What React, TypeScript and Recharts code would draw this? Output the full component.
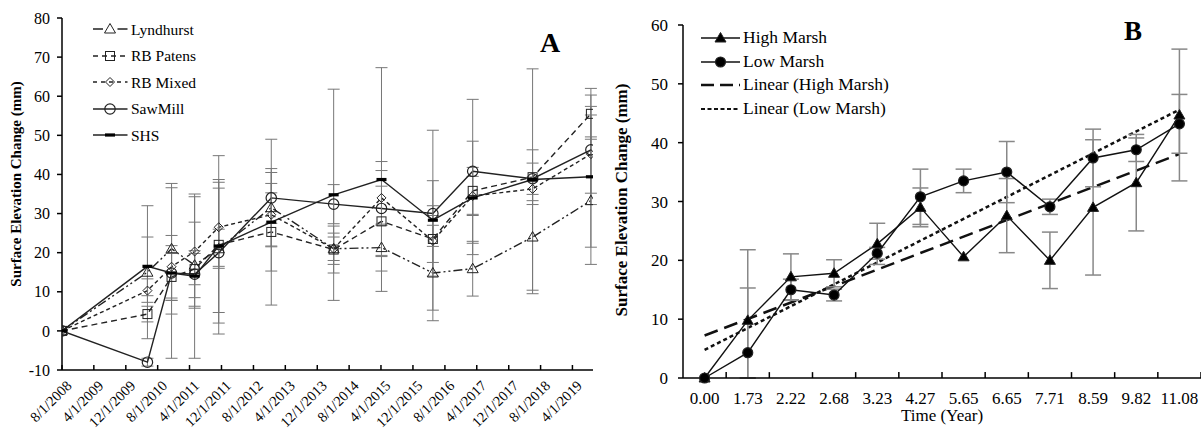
import React from "react";
import { LineChart, Line, XAxis, YAxis, ErrorBar, Legend, ReferenceLine } from "recharts";

const FONT = '"Liberation Serif", "Times New Roman", serif';

// ---- Panel A: elevation change by site ----
const datesA = [
  "2008-08-01", "2010-05-15", "2010-11-15", "2011-05-10", "2011-11-10", "2012-12-15",
  "2014-04-05", "2015-04-05", "2016-05-01", "2017-03-01", "2018-06-01", "2019-08-20",
];
const lyndhurst = [0, 15, 21, 16.8, 21, 31.5, 21, 21.3, 14.8, 15.9, 24, 33.3];
const lyndhurstErr = [0, 17, 16.7, 11, 5, 10, 3, 6, 12.2, 7, 14.5, 16.3];
const rbPatens = [0, 4.3, 13.8, 15.8, 22, 25.3, 20.8, 28, 23.5, 35.8, 39.3, 55.5];
const rbPatensErr = [0, 2, 6, 4, 22.8, 10, 6, 9, 6, 6, 7, 6.5];
const rbMixed = [0, 10.3, 16.4, 20.3, 26.5, 29.7, 21, 34, 23, 34.5, 36.3, 45.2];
const rbMixedErr = [0, 3, 8, 14, 10, 8, 4, 7, 9, 5, 3, 10];
const sawMill = [0, -8, 14.8, 14.5, 20, 34, 32.4, 31.3, 30, 40.8, 38.9, 46.3];
const sawMillErr = [0, 1, 21.8, 6, 18, 6.5, 5, 12, 8.4, 18.4, 4, 14];
const shs = [0, 16.5, 14.8, 14, 21.7, 27.8, 34.8, 38.7, 28.3, 34, 38.7, 39.4];
const shsErr = [0, 7.5, 7, 21, 17, 21.2, 27, 28.6, 23, 14.5, 28.3, 18];
const yTicksA = [-10, 0, 10, 20, 30, 40, 50, 60, 70, 80];

// ---- Panel B: high vs low marsh ----
const yearLabels = ["0.00", "1.73", "2.22", "2.68", "3.23", "4.27", "5.65", "6.65", "7.71", "8.59", "9.82", "11.08"];
const highMarsh = [0, 9.8, 17.2, 17.8, 22.8, 29, 20.6, 27.6, 20, 29, 33.2, 44.7];
const highMarshErr = [0, 12, 3.9, 2.3, 3.5, 3.3, 0, 6.3, 4.8, 11.5, 8.2, 11.2];
const lowMarsh = [0, 4.3, 15, 14.1, 21.2, 30.8, 33.5, 35, 29.1, 37.4, 38.8, 43.2];
const lowMarshErr = [0, 11, 1.8, 1, 1, 4.7, 2, 5.2, 1.3, 4.9, 2, 5];
const yTicksB = [0, 10, 20, 30, 40, 50, 60];

const seriesA = [
  { key: "lyndhurst", name: "Lyndhurst", values: lyndhurst, err: lyndhurstErr, dash: "9 3 2 3 2 3", legendDash: "10 14.5", shape: "triangle" },
  { key: "rbPatens", name: "RB Patens", values: rbPatens, err: rbPatensErr, dash: "6 4", legendDash: "5 4", shape: "square" },
  { key: "rbMixed", name: "RB Mixed", values: rbMixed, err: rbMixedErr, dash: "4 3", legendDash: "4 4", shape: "diamond" },
  { key: "sawMill", name: "SawMill", values: sawMill, err: sawMillErr, dash: undefined, legendDash: undefined, shape: "circle" },
  { key: "shs", name: "SHS", values: shs, err: shsErr, dash: undefined, legendDash: undefined, shape: "bar" },
];

const t0 = Date.UTC(2008, 7, 1);
const tEnd = Date.UTC(2019, 8, 5);
const dateTicksA = Array.from({ length: 17 }, (_, k) => Date.UTC(2008, 7 + 8 * k, 1));

const errPair = (v: number, e: number, floor: number) =>
  e ? [Math.min(e, v - floor), e] : null;

const rowsA = datesA.map((d, i) => {
  const row: any = { t: Date.parse(d) };
  seriesA.forEach((s) => {
    row[s.key] = s.values[i];
    row[s.key + "Err"] = errPair(s.values[i], s.err[i], -10);
  });
  return row;
});

// least-squares trendlines over the category index, as in the spreadsheet
function fit(ys: number[]) {
  const n = ys.length;
  const mx = (n - 1) / 2;
  const my = ys.reduce((a, b) => a + b, 0) / n;
  let sxy = 0, sxx = 0;
  ys.forEach((y, x) => { sxy += (x - mx) * (y - my); sxx += (x - mx) ** 2; });
  const slope = sxy / sxx;
  return (x: number) => my + slope * (x - mx);
}
const trendHigh = fit(highMarsh);
const trendLow = fit(lowMarsh);

const rowsB = yearLabels.map((_, i) => ({
  x: i,
  high: highMarsh[i],
  highErr: errPair(highMarsh[i], highMarshErr[i], 0),
  low: lowMarsh[i],
  lowErr: errPair(lowMarsh[i], lowMarshErr[i], 0),
  trendHigh: trendHigh(i),
  trendLow: trendLow(i),
}));

// category boundaries get the tick marks on a category axis
const boundariesB = yearLabels.map((_, i) => i + 0.5);

function Marker({ shape, cx, cy, filled }: { shape: string; cx: number; cy: number; filled?: boolean }) {
  const stroke = "#222";
  const fill = filled ? "#000" : "none";
  switch (shape) {
    case "triangle":
      return <polygon points={`${cx},${cy - 5.5} ${cx + 5.5},${cy + 4} ${cx - 5.5},${cy + 4}`} fill={fill} stroke={stroke} strokeWidth={1} />;
    case "square":
      return <rect x={cx - 4.5} y={cy - 4.5} width={9} height={9} fill={fill} stroke={stroke} strokeWidth={1} />;
    case "diamond":
      return <polygon points={`${cx},${cy - 4.5} ${cx + 4.5},${cy} ${cx},${cy + 4.5} ${cx - 4.5},${cy}`} fill={fill} stroke={stroke} strokeWidth={1} />;
    case "circle":
      return <circle cx={cx} cy={cy} r={filled ? 5 : 5.2} fill={fill} stroke={stroke} strokeWidth={1.2} />;
    case "bar":
      return <rect x={cx - 5} y={cy - 1.6} width={10} height={3.2} fill="#000" />;
    default:
      return null;
  }
}

const dotFor = (shape: string, name: string, filled?: boolean) => (p: any) =>
  p.cx == null || p.cy == null ? <g key={`${name}-${p.index}`} /> : (
    <g key={`${name}-${p.index}`}>
      <Marker shape={shape} cx={p.cx} cy={p.cy} filled={filled} />
    </g>
  );

function fmtDate(t: number) {
  const d = new Date(t);
  return `${d.getUTCMonth() + 1}/1/${d.getUTCFullYear()}`;
}

function DateTick({ x, payload }: any) {
  const ax = x + 7;
  const ay = 383;
  return (
    <text x={ax} y={ay} transform={`rotate(-45 ${ax} ${ay})`} textAnchor="end" dominantBaseline="central"
      fontFamily={FONT} fontSize={14.5} fill="#000">
      {fmtDate(payload.value)}
    </text>
  );
}

function LegendA() {
  return (
    <div style={{ fontFamily: FONT, fontSize: 15.5, color: "#000" }}>
      {seriesA.map((s) => (
        <div key={s.key} style={{ display: "flex", alignItems: "center", height: 26.5 }}>
          <svg width={35} height={14} style={{ overflow: "visible" }}>
            <line x1={0} y1={7} x2={34.5} y2={7} stroke="#222" strokeWidth={1.4} strokeDasharray={s.legendDash} />
            <Marker shape={s.shape} cx={17} cy={7} />
          </svg>
          <span style={{ marginLeft: 3, lineHeight: 1 }}>{s.name}</span>
        </div>
      ))}
    </div>
  );
}

const legendB = [
  { name: "High Marsh", dash: undefined, width: 1.4, shape: "triangle" },
  { name: "Low Marsh", dash: undefined, width: 1.4, shape: "circle" },
  { name: "Linear (High Marsh)", dash: "13 6", width: 2.5, shape: "" },
  { name: "Linear (Low Marsh)", dash: "4 2.5", width: 2, shape: "" },
];

function LegendB() {
  return (
    <div style={{ fontFamily: FONT, fontSize: 17.5, color: "#000" }}>
      {legendB.map((s) => (
        <div key={s.name} style={{ display: "flex", alignItems: "center", height: 23.7 }}>
          <svg width={40} height={14} style={{ overflow: "visible" }}>
            <line x1={0} y1={7} x2={39} y2={7} stroke="#111" strokeWidth={s.width} strokeDasharray={s.dash} />
            {s.shape && <Marker shape={s.shape} cx={19.5} cy={7} filled />}
          </svg>
          <span style={{ marginLeft: 2, lineHeight: 1 }}>{s.name}</span>
        </div>
      ))}
    </div>
  );
}

const titleStyle = (cx: number, cy: number, size: number): React.CSSProperties => ({
  position: "absolute",
  left: cx - 170,
  top: cy - 12,
  width: 340,
  height: 24,
  lineHeight: "24px",
  textAlign: "center",
  transform: "rotate(-90deg)",
  fontFamily: FONT,
  fontWeight: "bold",
  fontSize: size,
  color: "#000",
  whiteSpace: "nowrap",
});

export default function App() {
  return (
    <div style={{ position: "absolute", left: 0, top: 0, width: 1201, height: 431, background: "#fff", overflow: "hidden" }}>
      <div style={{ position: "absolute", left: 0, top: 0 }}>
        <LineChart width={600} height={431} data={rowsA} margin={{ top: 18, right: 7, bottom: 0, left: 0 }}>
          <XAxis
            dataKey="t"
            type="number"
            domain={[t0, tEnd]}
            ticks={dateTicksA}
            allowDataOverflow
            height={61}
            stroke="#000"
            strokeWidth={1.5}
            tickSize={-5}
            tickMargin={0}
            tick={<DateTick />}
            interval={0}
          />
          <YAxis
            type="number"
            domain={[-10, 80]}
            ticks={yTicksA}
            width={62}
            stroke="#000"
            strokeWidth={1.5}
            tickSize={5}
            tickMargin={7}
            interval={0}
            tick={{ fontFamily: FONT, fontSize: 16, fill: "#000" }}
          />
          <Legend
            layout="vertical"
            align="center"
            verticalAlign="middle"
            wrapperStyle={{ left: 93, top: 16, width: 130 }}
            content={() => <LegendA />}
          />
          {seriesA.map((s) => (
            <Line
              key={s.key}
              type="linear"
              dataKey={s.key}
              name={s.name}
              stroke="#222"
              strokeWidth={1.4}
              strokeDasharray={s.dash}
              dot={dotFor(s.shape, s.key)}
              activeDot={false}
              isAnimationActive={false}
            >
              <ErrorBar dataKey={s.key + "Err"} direction="y" width={6} stroke="#777" strokeWidth={1} />
            </Line>
          ))}
        </LineChart>
      </div>

      <div style={{ position: "absolute", left: 600, top: 0 }}>
        <LineChart width={601} height={431} data={rowsB} margin={{ top: 25, right: 0, bottom: 0, left: 0 }}>
          <XAxis
            xAxisId="lbl"
            dataKey="x"
            type="number"
            domain={[-0.5, 11.5]}
            ticks={yearLabels.map((_, i) => i)}
            tickFormatter={(v: number) => yearLabels[v]}
            allowDataOverflow
            height={53}
            stroke="#000"
            strokeWidth={1.5}
            tickLine={false}
            tickSize={0}
            tickMargin={14}
            interval={0}
            tick={{ fontFamily: FONT, fontSize: 17, fill: "#000" }}
          />
          <YAxis
            type="number"
            domain={[0, 60]}
            ticks={yTicksB}
            width={83}
            stroke="#000"
            strokeWidth={1.5}
            tickSize={5}
            tickMargin={10}
            interval={0}
            tick={{ fontFamily: FONT, fontSize: 17, fill: "#000" }}
          />
          <Legend
            layout="vertical"
            align="center"
            verticalAlign="middle"
            wrapperStyle={{ left: 101, top: 26, width: 200 }}
            content={() => <LegendB />}
          />
          {boundariesB.map((b) => (
            <ReferenceLine
              key={b}
              xAxisId="lbl"
              segment={[{ x: b, y: 0 }, { x: b, y: 1 }]}
              stroke="#000"
              strokeWidth={1.5}
              ifOverflow="visible"
            />
          ))}
          <Line xAxisId="lbl" type="linear" dataKey="trendHigh" stroke="#111" strokeWidth={2.5} strokeDasharray="14 7"
            dot={false} activeDot={false} isAnimationActive={false} />
          <Line xAxisId="lbl" type="linear" dataKey="trendLow" stroke="#111" strokeWidth={2.5} strokeDasharray="4 3"
            dot={false} activeDot={false} isAnimationActive={false} />
          <Line xAxisId="lbl" type="linear" dataKey="high" stroke="#111" strokeWidth={1.4}
            dot={dotFor("triangle", "high", true)} activeDot={false} isAnimationActive={false}>
            <ErrorBar dataKey="highErr" direction="y" width={8} stroke="#888" strokeWidth={1.5} />
          </Line>
          <Line xAxisId="lbl" type="linear" dataKey="low" stroke="#111" strokeWidth={1.4}
            dot={dotFor("circle", "low", true)} activeDot={false} isAnimationActive={false}>
            <ErrorBar dataKey="lowErr" direction="y" width={8} stroke="#888" strokeWidth={1.5} />
          </Line>
        </LineChart>
      </div>

      <div style={titleStyle(16, 184, 15)}>Surface Elevation Change (mm)</div>
      <div style={titleStyle(622, 200, 17)}>Surface Elevation Change (mm)</div>
      <div style={{ position: "absolute", left: 540, top: 27, fontFamily: FONT, fontWeight: "bold", fontSize: 28 }}>A</div>
      <div style={{ position: "absolute", left: 1124, top: 16, fontFamily: FONT, fontWeight: "bold", fontSize: 27 }}>B</div>
      <div style={{ position: "absolute", left: 842, top: 407, width: 200, lineHeight: 1, textAlign: "center", fontFamily: FONT, fontSize: 17 }}>
        Time (Year)
      </div>
    </div>
  );
}
